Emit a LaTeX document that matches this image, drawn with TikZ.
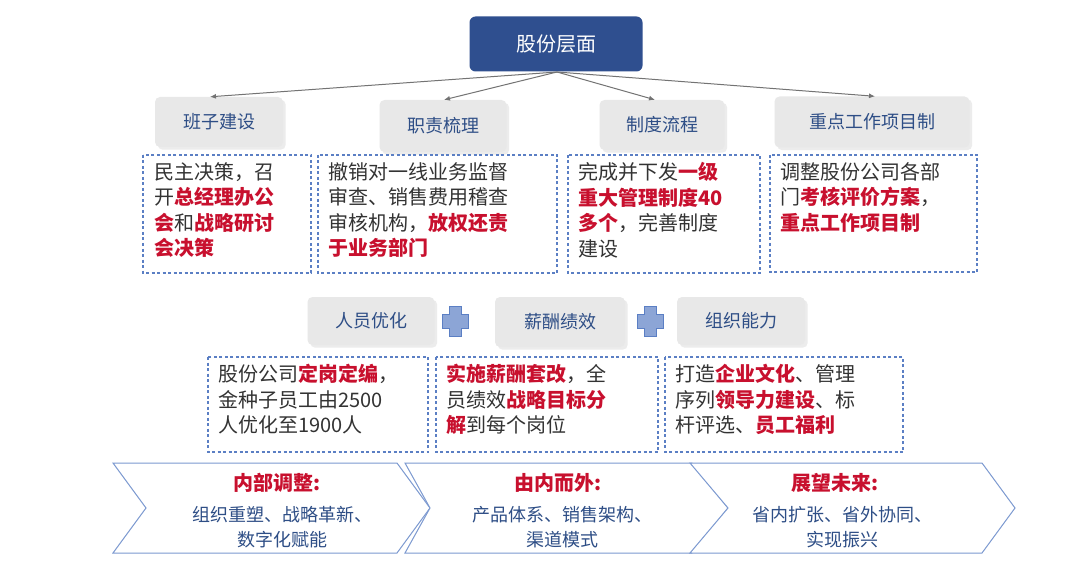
\documentclass[tikz,border=0pt]{standalone}
\usepackage{fontspec}
\setmainfont{Noto Sans CJK SC}
\usetikzlibrary{shadows}
\definecolor{dblue}{HTML}{2F4F8F}
\definecolor{hblue}{HTML}{2E4E86}
\definecolor{dred}{HTML}{C8102E}
\definecolor{tgray}{HTML}{333333}
\definecolor{lblue}{HTML}{5B7FC4}
\newcommand{\R}[1]{\textcolor{dred}{\bfseries #1}}
\tikzset{
  gbox/.style={fill=black!9,rounded corners=5pt,draw=none,text=hblue,font=\fontsize{18}{22}\selectfont,drop shadow={opacity=0.15}},
  dbox/.style={draw=lblue,dashed,line width=1.3pt,dash pattern=on 3pt off 2.5pt},
  body/.style={anchor=north west,align=left,text=tgray,font=\fontsize{20}{25.5}\selectfont,inner sep=0pt},
  arr/.style={draw=black!55,line width=1pt,-{Latex[length=6pt,width=5pt]}},
  chev/.style={draw=lblue!80,fill=white,line width=1pt},
  plus/.style={fill=lblue!70,draw=lblue,line width=1pt}
}
\usetikzlibrary{arrows.meta}
\begin{document}
\begin{tikzpicture}[x=1pt,y=-1pt]
\useasboundingbox (0,0) rectangle (1080,583);
\fill[white] (0,0) rectangle (1080,583);
% top
\node[fill=dblue,rounded corners=6pt,minimum width=173pt,minimum height=55pt,text=white,font=\fontsize{20}{24}\selectfont] (top) at (556,44) {股份层面};
\node[gbox,minimum width=128pt,minimum height=50pt] (g1) at (219,122) {班子建设};
\node[gbox,minimum width=127pt,minimum height=52pt] (g2) at (443,126) {职责梳理};
\node[gbox,minimum width=125pt,minimum height=50pt] (g3) at (662,125) {制度流程};
\node[gbox,minimum width=195pt,minimum height=51pt] (g4) at (872,122) {重点工作项目制};
\coordinate (o) at (557,72);
\draw[arr] (o) -- (g1.north -| 210,0);
\draw[arr] (o) -- (g2.north -| 444,0);
\draw[arr] (o) -- (g3.north -| 655,0);
\draw[arr] (o) -- (g4.north -| 875,0);
% dashed boxes row1
\draw[dbox] (143,155) rectangle (311,273);
\draw[dbox] (318,155) rectangle (557,273);
\draw[dbox] (568,155) rectangle (760,273);
\draw[dbox] (770,155) rectangle (977,272);
\node[body] (t1) at (154,162) {民主决策，召\\开\R{总经理办公}\\\R{会}和\R{战略研讨}\\\R{会决策}};
\node[body] (t2) at (328,162) {撤销对一线业务监督\\审查、销售费用稽查\\审核机构，\R{放权还责}\\\R{于业务部门}};
\node[body] (t3) at (578,162) {完成并下发\R{一级}\\\R{重大管理制度40}\\\R{多个}，完善制度\\建设};
\node[body] (t4) at (780,162) {调整股份公司各部\\门\R{考核评价方案}，\\\R{重点工作项目制}};
% middle
\node[gbox,minimum width=127pt,minimum height=48pt] (m1) at (371,321) {人员优化};
\node[gbox,minimum width=130pt,minimum height=50pt] (m2) at (560,322) {薪酬绩效};
\node[gbox,minimum width=128pt,minimum height=48pt] (m3) at (741,321) {组织能力};
\foreach \cx in {455,650}{
 \draw[plus] (\cx-6,306)--(\cx+6,306)--(\cx+6,314)--(\cx+13,314)--(\cx+13,328)--(\cx+6,328)--(\cx+6,336)--(\cx-6,336)--(\cx-6,328)--(\cx-13,328)--(\cx-13,314)--(\cx-6,314)--cycle;}
\draw[dbox] (208,357) rectangle (428,452);
\draw[dbox] (436,357) rectangle (658,452);
\draw[dbox] (665,357) rectangle (903,452);
\node[body] (u1) at (218,364) {股份公司\R{定岗定编}，\\金种子员工由2500\\人优化至1900人};
\node[body] (u2) at (446,364) {\R{实施薪酬套改}，全\\员绩效\R{战略目标分}\\\R{解}到每个岗位};
\node[body] (u3) at (675,364) {打造\R{企业文化}、管理\\序列\R{领导力建设}、标\\杆评选、\R{员工福利}};
% chevrons
\draw[chev] (113,463)--(397,463)--(430,508)--(397,553)--(113,553)--(146,508)--cycle;
\draw[chev] (405,463)--(692,463)--(728,508)--(692,553)--(405,553)--(430,508)--cycle;
\draw[chev] (690,463)--(982,463)--(1015,508)--(982,553)--(690,553)--(728,508)--cycle;
\node[text=dred,font=\fontsize{20}{24}\selectfont\bfseries] (c1t) at (277,483) {内部调整:};
\node[text=hblue,align=center,font=\fontsize{18}{25}\selectfont] (c1b) at (282,527) {组织重塑、战略革新、\\数字化赋能};
\node[text=dred,font=\fontsize{20}{24}\selectfont\bfseries] (c2t) at (558,483) {由内而外:};
\node[text=hblue,align=center,font=\fontsize{18}{25}\selectfont] (c2b) at (562,527) {产品体系、销售架构、\\渠道模式};
\node[text=dred,font=\fontsize{20}{24}\selectfont\bfseries] (c3t) at (835,483) {展望未来:};
\node[text=hblue,align=center,font=\fontsize{18}{25}\selectfont] (c3b) at (842,527) {省内扩张、省外协同、\\实现振兴};
\end{tikzpicture}
\end{document}
